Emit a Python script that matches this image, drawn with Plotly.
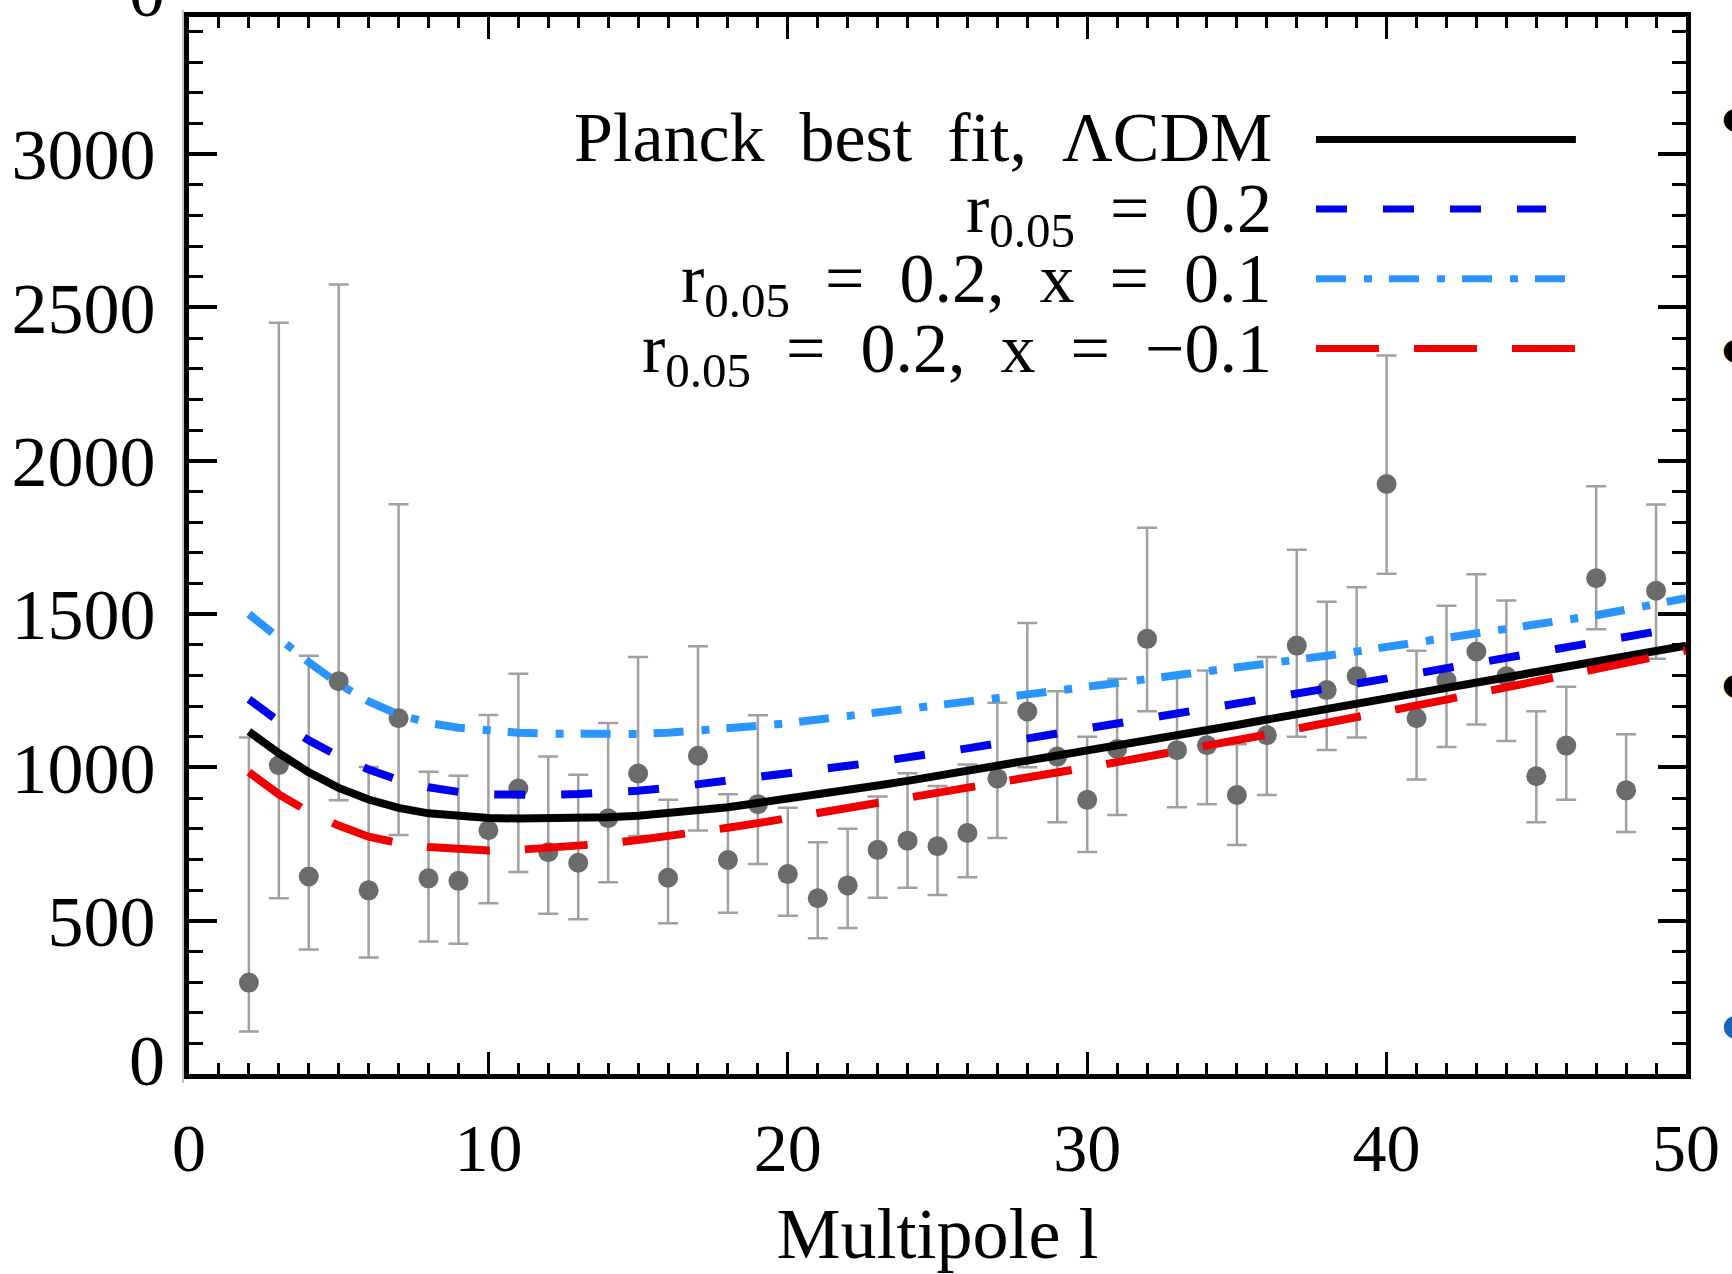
import plotly.graph_objects as go

# ---------------- data ----------------
ell_obs = list(range(2, 50))
cl_obs = [298, 1007, 644, 1281, 599, 1160, 638, 630, 795, 931, 723, 689, 834, 980,
          640, 1038, 698, 880, 652, 573, 615, 731, 761, 743, 786, 964, 1182, 1035,
          894, 1060, 1419, 1056, 1072, 910, 1105, 1397, 1252, 1297, 1924, 1160,
          1283, 1378, 1297, 971, 1071, 1617, 925, 1576]
cl_hi = [1097, 2450, 1364, 2575, 1001, 1858, 986, 973, 1171, 1305, 1035, 976, 1145, 1360,
         894, 1395, 912, 1170, 868, 756, 800, 905, 981, 939, 1009, 1211, 1471, 1248,
         1100, 1289, 1781, 1300, 1316, 1075, 1360, 1710, 1540, 1587, 2343, 1380,
         1527, 1630, 1544, 1183, 1263, 1917, 1108, 1857]
cl_lo = [139, 573, 406, 893, 380, 779, 432, 425, 557, 659, 523, 505, 625, 776,
         492, 794, 526, 685, 516, 443, 476, 575, 607, 584, 642, 770, 1000, 821,
         724, 845, 1183, 870, 880, 747, 910, 1100, 1057, 1097, 1631, 960,
         1066, 1140, 1086, 821, 894, 1450, 789, 1354]

ell_model = list(range(2, 51))
lcdm = [1117, 1046, 984, 933, 895, 868, 850, 840, 835, 833, 833, 835, 837, 842,
        850, 859, 870, 884, 897, 911, 926, 941, 956, 972, 989, 1006, 1022, 1038,
        1054, 1070, 1087, 1104, 1121, 1138, 1156, 1173, 1190, 1207, 1224, 1241,
        1258, 1275, 1292, 1310, 1327, 1345, 1362, 1380, 1397]
r02 = [1222, 1150, 1088, 1036, 993, 959, 935, 920, 912, 909, 910, 913, 917, 924,
       933, 944, 955, 967, 979, 992, 1005, 1018, 1031, 1045, 1062, 1078, 1094, 1110,
       1126, 1141, 1157, 1172, 1188, 1204, 1221, 1238, 1255, 1272, 1289, 1306,
       1323, 1340, 1357, 1374, 1391, 1408, 1425, 1443, 1460]
r02_xp = [1500, 1420, 1343, 1272, 1215, 1172, 1145, 1129, 1119, 1113, 1110, 1108, 1107, 1109,
          1113, 1119, 1126, 1135, 1144, 1155, 1166, 1178, 1190, 1202, 1214, 1226, 1238, 1250,
          1262, 1274, 1286, 1298, 1311, 1324, 1337, 1350, 1364, 1378, 1392, 1406,
          1420, 1434, 1448, 1462, 1478, 1496, 1514, 1533, 1552]
r02_xm = [984, 912, 855, 810, 774, 753, 740, 732, 729, 731, 736, 743, 752, 763,
          775, 789, 803, 818, 834, 851, 867, 884, 901, 918, 935, 950, 966, 983,
          1000, 1017, 1034, 1052, 1070, 1089, 1107, 1126, 1144, 1163, 1182, 1201,
          1221, 1241, 1261, 1281, 1301, 1321, 1341, 1361, 1381]

series_names = ["Planck best fit, ΛCDM", "r0.05 = 0.2", "r0.05 = 0.2, x = 0.1", "r0.05 = 0.2, x = −0.1"]
legend_texts = [
    "Planck\u00a0 best\u00a0 fit,\u00a0 ΛCDM",
    "r<sub>0.05</sub>\u00a0 =\u00a0 0.2",
    "r<sub>0.05</sub>\u00a0 =\u00a0 0.2,\u00a0 x\u00a0 =\u00a0 0.1",
    "r<sub>0.05</sub>\u00a0 =\u00a0 0.2,\u00a0 x\u00a0 =\u00a0 −0.1",
]
y_tickvals = [0, 500, 1000, 1500, 2000, 2500, 3000]
y_ticktext = ["", "500", "1000", "1500", "2000", "2500", "3000"]  # "0" drawn slightly raised below
x_tickvals = [0, 10, 20, 30, 40, 50]

# ---------------- styles ----------------
FONT = "Liberation Serif"
colors = ["#000000", "#0000f0", "#2b95ff", "#f00000"]
dashes = ["solid", "31px,36px", "30px,18px,8px,17px", "63px,35px"]
widths = [8, 8, 8, 8]

fig = go.Figure()

fig.add_trace(go.Scatter(
    x=ell_obs, y=cl_obs, mode="markers",
    marker=dict(color="#6b6b6b", size=20),
    error_y=dict(type="data", symmetric=False,
                 array=[h - v for h, v in zip(cl_hi, cl_obs)],
                 arrayminus=[v - l for v, l in zip(cl_obs, cl_lo)],
                 color="#a0a0a0", thickness=2.5, width=10),
    showlegend=False, cliponaxis=False))

for ys, name, c, d, w in zip([lcdm, r02, r02_xp, r02_xm], series_names, colors, dashes, widths):
    fig.add_trace(go.Scatter(x=ell_model, y=ys, mode="lines", name=name,
                             line=dict(color=c, dash=d, width=w), showlegend=False))

# plot area in pixels: left 184, right 1693, top 15, bottom 1077
L, R, T, B = 184, 1693, 15, 1077
def px(xp):
    return (xp - L) / (R - L)
def py(yp):
    return (B - yp) / (B - T)

# manual legend: text on the left, sample on the right
rows_y = [138, 208, 278, 348]
text_y = [136, 213, 283, 354]
sample_x1 = [1582, 1552, 1578, 1585]
annotations = []
shapes = []
for txt, yy, ty, c, d, x1 in zip(legend_texts, rows_y, text_y, colors, dashes, sample_x1):
    annotations.append(dict(text=txt, xref="paper", yref="paper", x=px(1278), y=py(ty),
                            xanchor="right", yanchor="middle", showarrow=False,
                            font=dict(family=FONT, size=70, color="black")))
    shapes.append(dict(type="line", xref="paper", yref="paper",
                       x0=px(1320), x1=px(x1), y0=py(yy), y1=py(yy),
                       line=dict(color=c, width=7, dash=d)))

# the "0" y label sits a little above the axis in the original
annotations.append(dict(text="0", xref="paper", yref="paper", x=px(162), y=py(1064),
                        xanchor="right", yanchor="middle", showarrow=False,
                        font=dict(family=FONT, size=72, color="black")))
# cropped glyph fragment at the very top-left (cut by the image edge)
annotations.append(dict(text="0", xref="paper", yref="paper", x=px(162), y=py(-10),
                        xanchor="right", yanchor="middle", showarrow=False,
                        font=dict(family=FONT, size=72, color="black")))

# bullet marks at the right edge (slide bullets, cropped)
for yy, c in zip([116, 348, 685, 1027], ["black", "black", "black", "#1565c0"]):
    annotations.append(dict(text="●", xref="paper", yref="paper", x=px(1727), y=py(yy),
                            xanchor="left", yanchor="middle", showarrow=False,
                            font=dict(family="DejaVu Sans", size=30, color=c)))

# thin grey edge line left of the frame
shapes.append(dict(type="line", xref="paper", yref="paper", x0=px(178), x1=px(178),
                   y0=py(8), y1=py(1086), line=dict(color="#b0b0b0", width=1.5)))

fig.update_layout(
    width=1732, height=1274,
    margin=dict(l=L, r=1732 - R, t=T, b=1274 - B, pad=0),
    paper_bgcolor="white", plot_bgcolor="white",
    showlegend=False,
    font=dict(family=FONT, size=68, color="black"),
    annotations=annotations, shapes=shapes,
)

fig.update_xaxes(
    range=[0, 50], tickvals=x_tickvals, ticktext=[str(v) for v in x_tickvals],
    showgrid=False, zeroline=False,
    showline=True, linecolor="black", linewidth=5, mirror="allticks",
    ticks="inside", ticklen=22, tickwidth=3, tickcolor="black",
    minor=dict(dtick=1, ticks="inside", ticklen=11, tickwidth=2.5, tickcolor="black", showgrid=False),
    tickfont=dict(family=FONT, size=68), ticklabelstandoff=10,
    title=dict(text="Multipole l", font=dict(family=FONT, size=72), standoff=26),
)
fig.update_yaxes(
    range=[0, 3447], tickvals=y_tickvals, ticktext=y_ticktext,
    showgrid=False, zeroline=False,
    showline=True, linecolor="black", linewidth=5, mirror="allticks",
    ticks="inside", ticklen=28, tickwidth=4, tickcolor="black",
    minor=dict(dtick=100, ticks="inside", ticklen=14, tickwidth=3, tickcolor="black", showgrid=False),
    tickfont=dict(family=FONT, size=72), ticklabelstandoff=14,
)

fig.write_html("out.html", config={"displayModeBar": False},
               post_script="document.body.style.margin='0px';document.body.style.overflow='hidden';")
